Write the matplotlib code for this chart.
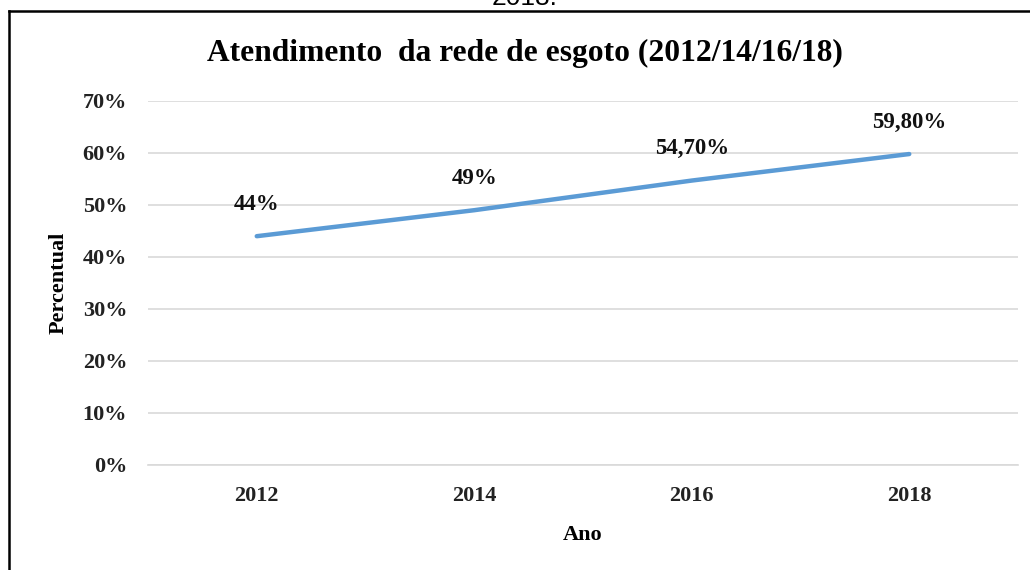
import matplotlib.pyplot as plt
from matplotlib.lines import Line2D

anos = ['2012', '2014', '2016', '2018']
percentual = [44.0, 49.0, 54.7, 59.8]
rotulos = ['44%', '49%', '54,70%', '59,80%']
yticks = [0, 10, 20, 30, 40, 50, 60, 70]

serif = ['Liberation Serif', 'DejaVu Serif']

fig = plt.figure(figsize=(10.30, 5.70), dpi=100)
ax = fig.add_axes([148 / 1030, 1 - 465 / 570, 870 / 1030, 364 / 570])

x = list(range(len(anos)))
ax.plot(x, percentual, color='#5b9bd5', linewidth=3.2, solid_capstyle='round')
for xi, yi, lab in zip(x, percentual, rotulos):
    ax.annotate(lab, (xi, yi), xytext=(0, 32), textcoords='offset pixels',
                ha='center', va='center', fontsize=16.5, fontweight='bold',
                family=serif, color='#111111')

ax.set_xlim(-0.5, len(anos) - 0.5)
ax.set_ylim(0, 70)
ax.set_yticks(yticks)
ax.set_yticklabels([f'{v}%' for v in yticks])
ax.set_xticks(x)
ax.set_xticklabels(anos)
for lab in ax.get_xticklabels() + ax.get_yticklabels():
    lab.set_family(serif)
    lab.set_fontweight('bold')
    lab.set_fontsize(16)
    lab.set_color('#222222')
ax.tick_params(length=0)
ax.tick_params(axis='y', pad=15)
ax.tick_params(axis='x', pad=15)
ax.grid(axis='y', color='#d9d9d9', linewidth=1.2)
ax.set_axisbelow(True)
for s in ['top', 'right', 'left']:
    ax.spines[s].set_visible(False)
ax.spines['bottom'].set_color('#d9d9d9')
ax.spines['bottom'].set_linewidth(1.2)

ax.set_xlabel('Ano', fontsize=16, fontweight='bold', family=serif, labelpad=14)
ax.set_ylabel('Percentual', fontsize=16, fontweight='bold', family=serif, labelpad=10)

fig.text(525 / 1030, 1 - 53 / 570, 'Atendimento  da rede de esgoto (2012/14/16/18)',
         ha='center', va='center', fontsize=22.7, fontweight='bold', family=serif)

# texto cortado acima do quadro
fig.text(525 / 1030, 1 - 5 / 570, '2018.', ha='center', va='baseline',
         fontsize=19, family=['Liberation Sans', 'DejaVu Sans'])

# moldura (apenas topo e esquerda visiveis)
fig.add_artist(Line2D([9 / 1030, 1], [1 - 11 / 570, 1 - 11 / 570],
                      transform=fig.transFigure, color='black', linewidth=1.8))
fig.add_artist(Line2D([9 / 1030, 9 / 1030], [0, 1 - 11 / 570],
                      transform=fig.transFigure, color='black', linewidth=1.8))

fig.savefig('out.png', dpi=100)
